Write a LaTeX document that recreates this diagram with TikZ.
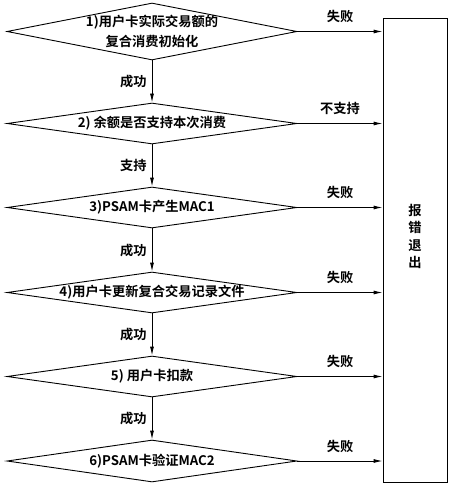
\documentclass[tikz,border=0pt]{standalone}
\usepackage{fontspec}
\setmainfont{Noto Sans CJK SC}[BoldFont={Noto Sans CJK SC Bold}]
\usetikzlibrary{shapes.geometric,arrows.meta}
\begin{document}
\begin{tikzpicture}[x=1bp,y=-1bp,
  every node/.style={font=\fontsize{13.3}{16}\selectfont\bfseries},
  dia/.style={draw,diamond,line width=0.9bp,inner sep=0pt,minimum width=290bp},
  dtext/.style={inner sep=0pt,align=center},
  arr/.style={line width=0.9bp,-{Latex[length=9bp,width=4bp]}},
  lbl/.style={inner sep=0pt}]
\useasboundingbox (0,0) rectangle (450,485);
\node[dia,minimum height=57bp] (d1) at (152,31.5) {};
\node[dia,minimum height=41bp] (d2) at (152,123.5) {};
\node[dia,minimum height=41bp] (d3) at (152,207.5) {};
\node[dia,minimum height=41bp] (d4) at (152,292.5) {};
\node[dia,minimum height=41bp] (d5) at (152,376.5) {};
\node[dia,minimum height=42bp] (d6) at (152,461) {};
\node[dtext,font=\fontsize{13.3}{19.5}\selectfont\bfseries] (t1) at (d1) {1)用户卡实际交易额的\\复合消费初始化};
\node[dtext] (t2) at (d2) {2) 余额是否支持本次消费};
\node[dtext] (t3) at (d3) {3)PSAM卡产生MAC1};
\node[dtext] (t4) at (d4) {4)用户卡更新复合交易记录文件};
\node[dtext] (t5) at (d5) {5) 用户卡扣款};
\node[dtext] (t6) at (d6) {6)PSAM卡验证MAC2};
\node[draw,line width=0.9bp,minimum width=64bp,minimum height=464bp,inner sep=0pt] (exit) at (415,250) {};
\node[lbl,align=center,font=\fontsize{13.3}{17.7}\selectfont\bfseries] (exittext) at (415,236.5) {报\\错\\退\\出};
\draw[arr] (d1) -- node[lbl,left=5bp] {成功} (d2);
\draw[arr] (d2) -- node[lbl,left=5bp] {支持} (d3);
\draw[arr] (d3) -- node[lbl,left=5bp] {成功} (d4);
\draw[arr] (d4) -- node[lbl,left=5bp] {成功} (d5);
\draw[arr] (d5) -- node[lbl,left=5bp] {成功} (d6);
\draw[arr] (d1.east) -- node[lbl,above=8bp] {失败} (d1.east -| exit.west);
\draw[arr] (d2.east) -- node[lbl,above=8bp] {不支持} (d2.east -| exit.west);
\draw[arr] (d3.east) -- node[lbl,above=8bp] {失败} (d3.east -| exit.west);
\draw[arr] (d4.east) -- node[lbl,above=8bp] {失败} (d4.east -| exit.west);
\draw[arr] (d5.east) -- node[lbl,above=8bp] {失败} (d5.east -| exit.west);
\draw[arr] (d6.east) -- node[lbl,above=8bp] {失败} (d6.east -| exit.west);
\end{tikzpicture}
\end{document}
